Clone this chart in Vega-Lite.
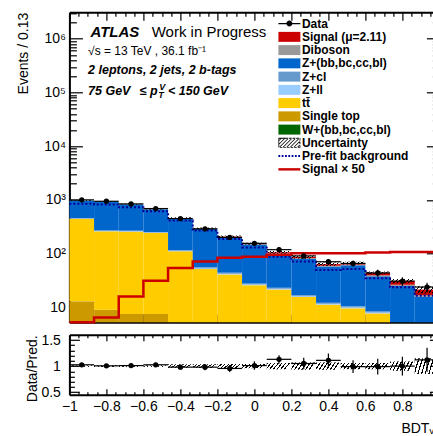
{
  "$schema": "https://vega.github.io/schema/vega-lite/v6.json",
  "background": "white",
  "padding": {"left": 16.4, "top": 5.3, "right": 0, "bottom": 0},
  "spacing": 5.5,
  "config": {
    "font": "Liberation Sans",
    "view": {"stroke": null},
    "axis": {
      "domainColor": "black", "domainWidth": 2, "tickColor": "black", "tickWidth": 1.2,
      "labelFont": "Liberation Sans", "labelFontSize": 14, "labelColor": "black",
      "titleFont": "Liberation Sans", "titleFontSize": 14, "titleFontWeight": "normal", "titleColor": "black",
      "grid": false, "zindex": 1, "labelFlush": false, "labelOverlap": false, "labelBound": false
    }
  },
  "datasets": {
    "procs": [
      {"key": "w", "k": 1, "name": "W+(bb,bc,cc,bl)"},
      {"key": "stop", "k": 2, "name": "Single top"},
      {"key": "tt", "k": 3, "name": "tt\u0304"},
      {"key": "zll", "k": 4, "name": "Z+ll"},
      {"key": "zcl", "k": 5, "name": "Z+cl"},
      {"key": "zhf", "k": 6, "name": "Z+(bb,bc,cc,bl)"},
      {"key": "vv", "k": 7, "name": "Diboson"},
      {"key": "sig", "k": 8, "name": "Signal (μ=2.11)"}
    ],
    "bins": [
      {"lo": -1, "hi": -0.8667, "c": -0.9333, "n": 1005, "nlo": 973, "nhi": 1037, "r": 1.025, "rlo": 0.993, "rhi": 1.057, "ulo": 960, "uhi": 990, "ulr": 0.985, "uhr": 1.015, "w": 0.8, "stop": 12.2, "tt": 432, "zll": 6, "zcl": 10, "zhf": 510, "vv": 4, "sig": 0.2},
      {"lo": -0.8667, "hi": -0.7333, "c": -0.8, "n": 946, "nlo": 915, "nhi": 977, "r": 1.005, "rlo": 0.972, "rhi": 1.038, "ulo": 921, "uhi": 949, "ulr": 0.985, "uhr": 1.015, "w": 0.6, "stop": 8.5, "tt": 252, "zll": 4, "zcl": 7, "zhf": 659, "vv": 4, "sig": 0.27},
      {"lo": -0.7333, "hi": -0.6, "c": -0.6667, "n": 845, "nlo": 816, "nhi": 874, "r": 1.01, "rlo": 0.975, "rhi": 1.045, "ulo": 822, "uhi": 848, "ulr": 0.985, "uhr": 1.015, "w": 0.5, "stop": 7.1, "tt": 250, "zll": 4, "zcl": 7, "zhf": 561, "vv": 4, "sig": 0.68},
      {"lo": -0.6, "hi": -0.4667, "c": -0.5333, "n": 692, "nlo": 666, "nhi": 718, "r": 1.025, "rlo": 0.986, "rhi": 1.064, "ulo": 665, "uhi": 685, "ulr": 0.985, "uhr": 1.015, "w": 0.4, "stop": 7.2, "tt": 236, "zll": 4, "zcl": 6, "zhf": 416, "vv": 4, "sig": 1.33},
      {"lo": -0.4667, "hi": -0.3333, "c": -0.4, "n": 451, "nlo": 430, "nhi": 472, "r": 0.98, "rlo": 0.934, "rhi": 1.026, "ulo": 444, "uhi": 476, "ulr": 0.965, "uhr": 1.035, "w": 0.3, "stop": 3.6, "tt": 107, "zll": 2.5, "zcl": 4, "zhf": 337, "vv": 3.5, "sig": 2.28},
      {"lo": -0.3333, "hi": -0.2, "c": -0.2667, "n": 290, "nlo": 273, "nhi": 307, "r": 0.98, "rlo": 0.922, "rhi": 1.038, "ulo": 286, "uhi": 306, "ulr": 0.965, "uhr": 1.035, "w": 0.2, "stop": 2.6, "tt": 49, "zll": 1.5, "zcl": 2.5, "zhf": 234, "vv": 3, "sig": 3.04},
      {"lo": -0.2, "hi": -0.0667, "c": -0.1333, "n": 201, "nlo": 187, "nhi": 215, "r": 0.955, "rlo": 0.888, "rhi": 1.022, "ulo": 202, "uhi": 218, "ulr": 0.96, "uhr": 1.04, "w": 0.2, "stop": 2.0, "tt": 39, "zll": 1.2, "zcl": 2, "zhf": 159, "vv": 3, "sig": 3.54},
      {"lo": -0.0667, "hi": 0.0667, "c": 0, "n": 156, "nlo": 143.5, "nhi": 168.5, "r": 1.01, "rlo": 0.929, "rhi": 1.091, "ulo": 148, "uhi": 160, "ulr": 0.96, "uhr": 1.04, "w": 0.1, "stop": 1.5, "tt": 24.4, "zll": 0.8, "zcl": 1.2, "zhf": 120, "vv": 2.5, "sig": 3.71},
      {"lo": 0.0667, "hi": 0.2, "c": 0.1333, "n": 119, "nlo": 108, "nhi": 130, "r": 1.13, "rlo": 1.05, "rhi": 1.21, "ulo": 99.6, "uhi": 112.4, "ulr": 0.94, "uhr": 1.06, "w": 0.1, "stop": 1.2, "tt": 20.4, "zll": 0.7, "zcl": 1.0, "zhf": 76, "vv": 2.5, "sig": 4.05},
      {"lo": 0.2, "hi": 0.3333, "c": 0.2667, "n": 91, "nlo": 81.5, "nhi": 100.5, "r": 1.05, "rlo": 0.94, "rhi": 1.16, "ulo": 80.9, "uhi": 93.1, "ulr": 0.93, "uhr": 1.07, "w": 0.1, "stop": 1.0, "tt": 14.6, "zll": 0.5, "zcl": 0.8, "zhf": 63.5, "vv": 2.2, "sig": 4.3},
      {"lo": 0.3333, "hi": 0.4667, "c": 0.4, "n": 71, "nlo": 62.6, "nhi": 79.4, "r": 1.11, "rlo": 0.98, "rhi": 1.24, "ulo": 59.5, "uhi": 68.5, "ulr": 0.93, "uhr": 1.07, "w": 0.1, "stop": 0.8, "tt": 10.4, "zll": 0.4, "zcl": 0.6, "zhf": 45.4, "vv": 2, "sig": 4.3},
      {"lo": 0.4667, "hi": 0.6, "c": 0.5333, "n": 66, "nlo": 57.9, "nhi": 74.1, "r": 0.99, "rlo": 0.87, "rhi": 1.11, "ulo": 63, "uhi": 71, "ulr": 0.94, "uhr": 1.06, "w": 0.05, "stop": 0.7, "tt": 8.9, "zll": 0.35, "zcl": 0.5, "zhf": 50.3, "vv": 2, "sig": 4.3},
      {"lo": 0.6, "hi": 0.7333, "c": 0.6667, "n": 44, "nlo": 37.4, "nhi": 50.6, "r": 0.99, "rlo": 0.84, "rhi": 1.14, "ulo": 41.4, "uhi": 46.6, "ulr": 0.94, "uhr": 1.06, "w": 0.05, "stop": 0.5, "tt": 7.2, "zll": 0.3, "zcl": 0.4, "zhf": 29.6, "vv": 1.6, "sig": 4.43},
      {"lo": 0.7333, "hi": 0.8667, "c": 0.8, "n": 31, "nlo": 25.4, "nhi": 36.6, "r": 1.0, "rlo": 0.82, "rhi": 1.18, "ulo": 28.2, "uhi": 33.8, "ulr": 0.91, "uhr": 1.09, "w": 0.05, "stop": 0.4, "tt": 4.1, "zll": 0.2, "zcl": 0.3, "zhf": 20, "vv": 1.4, "sig": 4.56},
      {"lo": 0.8667, "hi": 1, "c": 0.9333, "n": 24, "nlo": 19.1, "nhi": 28.9, "r": 1.12, "rlo": 0.89, "rhi": 1.35, "ulo": 18.3, "uhi": 24.7, "ulr": 0.85, "uhr": 1.15, "w": 0.05, "stop": 0.3, "tt": 3.2, "zll": 0.15, "zcl": 0.25, "zhf": 11.9, "vv": 1.1, "sig": 4.56}
    ],
    "edges": [
      {"e": -1, "s50": 5, "pre": 846},
      {"e": -0.8667, "s50": 6.5, "pre": 820},
      {"e": -0.7333, "s50": 16, "pre": 731},
      {"e": -0.6, "s50": 31.5, "pre": 616},
      {"e": -0.4667, "s50": 54, "pre": 413},
      {"e": -0.3333, "s50": 72, "pre": 269},
      {"e": -0.2, "s50": 84, "pre": 187},
      {"e": -0.0667, "s50": 88, "pre": 131},
      {"e": 0.0667, "s50": 96, "pre": 88},
      {"e": 0.2, "s50": 102, "pre": 72},
      {"e": 0.3333, "s50": 102, "pre": 50},
      {"e": 0.4667, "s50": 102, "pre": 52},
      {"e": 0.6, "s50": 105, "pre": 35},
      {"e": 0.7333, "s50": 108, "pre": 23.7},
      {"e": 0.8667, "s50": 108, "pre": 16.6},
      {"e": 1, "s50": 108, "pre": 16.6}
    ]
  },
  "vconcat": [
    {
      "width": 370,
      "height": 310,
      "resolve": {"axis": {"x": "independent", "y": "independent"}},
      "layer": [
        {
          "data": {"name": "bins"},
          "transform": [
            {"fold": ["w", "stop", "tt", "zll", "zcl", "zhf", "vv", "sig"], "as": ["key", "v"]},
            {"lookup": "key", "from": {"data": {"name": "procs"}, "key": "key", "fields": ["name", "k"]}},
            {"stack": "v", "groupby": ["lo"], "sort": [{"field": "k", "order": "ascending"}], "as": ["y0", "y1"]}
          ],
          "mark": {"type": "bar"},
          "encoding": {
            "x": {
              "field": "lo", "type": "quantitative",
              "scale": {"domain": [-1, 1], "nice": false, "zero": false},
              "axis": {
                "orient": "bottom", "title": null, "labels": false,
                "values": [-1,-0.95,-0.9,-0.85,-0.8,-0.75,-0.7,-0.65,-0.6,-0.55,-0.5,-0.45,-0.4,-0.35,-0.3,-0.25,-0.2,-0.15,-0.1,-0.05,0,0.05,0.1,0.15,0.2,0.25,0.3,0.35,0.4,0.45,0.5,0.55,0.6,0.65,0.7,0.75,0.8,0.85,0.9,0.95,1],
                "tickSize": {"condition": {"test": "abs(datum.value*5-round(datum.value*5))<0.001", "value": -8}, "value": -4}
              }
            },
            "x2": {"field": "hi"},
            "y": {
              "field": "y1", "type": "quantitative",
              "scale": {"type": "log", "domain": [5.3, 3100000], "nice": false, "clamp": true},
              "axis": {
                "orient": "left", "title": "Events / 0.13", "titleAnchor": "end", "titlePadding": 13,
                "values": [6,7,8,9,10,20,30,40,50,60,70,80,90,100,200,300,400,500,600,700,800,900,1000,2000,3000,4000,5000,6000,7000,8000,9000,10000,20000,30000,40000,50000,60000,70000,80000,90000,100000,200000,300000,400000,500000,600000,700000,800000,900000,1000000,2000000,3000000],
                "labelExpr": "datum.value==10?'10':datum.value==100?'10²':datum.value==1000?'10³':datum.value==10000?'10⁴':datum.value==100000?'10⁵':datum.value==1000000?'10⁶':''",
                "labelPadding": 17,
                "tickSize": {"condition": {"test": "indexof([10,100,1000,10000,100000,1000000],datum.value)>=0", "value": -13}, "value": -7}
              }
            },
            "y2": {"field": "y0"},
            "fill": {
              "field": "name", "type": "nominal",
              "scale": {
                "domain": ["Data", "Signal (μ=2.11)", "Diboson", "Z+(bb,bc,cc,bl)", "Z+cl", "Z+ll", "tt\u0304", "Single top", "W+(bb,bc,cc,bl)", "Uncertainty", "Pre-fit background", "Signal × 50"],
                "range": ["black", "#cc0000", "#999999", "#0066cc", "#6699cc", "#99ccff", "#ffcc00", "#cc9900", "#006600", "black", "#000099", "#cc0000"]
              },
              "legend": {
                "orient": "none", "legendX": 214, "legendY": 5.3, "title": null, "padding": 0,
                "labelFont": "Liberation Sans", "labelFontSize": 12, "labelFontWeight": "bold", "labelColor": "black",
                "symbolSize": 144, "symbolStrokeWidth": 0, "labelOffset": 6.5, "rowPadding": 1.25, "labelLimit": 300,
                "encode": {
                  "symbols": {
                    "update": {
                      "shape": {"signal": "datum.value === 'Data' ? 'M-1.83,-0.09H1.83V0.09H-1.83Z M0.5,0A0.5,0.5,0,1,1,-0.5,0A0.5,0.5,0,1,1,0.5,0Z' : datum.value === 'Uncertainty' ? 'M-1.83,-0.83H1.83V0.83H-1.83Z M-1.7,-0.7V0.7H1.7V-0.7Z M-1.83,0.83L-1.65,0.83L0.01,-0.83L-0.17,-0.83Z M-1.23,0.83L-1.05,0.83L0.61,-0.83L0.43,-0.83Z M-0.63,0.83L-0.45,0.83L1.21,-0.83L1.03,-0.83Z M-0.03,0.83L0.15,0.83L1.81,-0.83L1.63,-0.83Z M0.57,0.83L0.75,0.83L1.83,-0.25L1.83,-0.43Z M1.17,0.83L1.35,0.83L1.83,0.35L1.83,0.17Z M-1.83,0.41L-1.83,0.23L-0.77,-0.83L-0.59,-0.83Z M-1.83,-0.19L-1.83,-0.37L-1.37,-0.83L-1.19,-0.83Z' : datum.value === 'Pre-fit background' ? 'M-1.83,-0.17h0.3v0.34h-0.3Z M-1.28,-0.17h0.3v0.34h-0.3Z M-0.73,-0.17h0.3v0.34h-0.3Z M-0.18,-0.17h0.3v0.34h-0.3Z M0.37,-0.17h0.3v0.34h-0.3Z M0.92,-0.17h0.3v0.34h-0.3Z M1.47,-0.17h0.3v0.34h-0.3Z' : datum.value === 'Signal × 50' ? 'M-1.83,-0.2H1.83V0.2H-1.83Z' : 'M-1.83,-0.83H1.83V0.83H-1.83Z'"}
                    }
                  }
                }
              }
            }
          }
        },
        {
          "data": {"name": "bins"},
          "mark": {
            "type": "bar",
            "fill": {"gradient": "linear", "x1": 0, "y1": 0, "x2": 1, "y2": 0.2, "stops": [
              {"offset": 0, "color": "black"}, {"offset": 0.05, "color": "black"}, {"offset": 0.05, "color": "rgba(0,0,0,0)"}, {"offset": 0.1429, "color": "rgba(0,0,0,0)"},
              {"offset": 0.1429, "color": "black"}, {"offset": 0.1929, "color": "black"}, {"offset": 0.1929, "color": "rgba(0,0,0,0)"}, {"offset": 0.2857, "color": "rgba(0,0,0,0)"},
              {"offset": 0.2857, "color": "black"}, {"offset": 0.3357, "color": "black"}, {"offset": 0.3357, "color": "rgba(0,0,0,0)"}, {"offset": 0.4286, "color": "rgba(0,0,0,0)"},
              {"offset": 0.4286, "color": "black"}, {"offset": 0.4786, "color": "black"}, {"offset": 0.4786, "color": "rgba(0,0,0,0)"}, {"offset": 0.5714, "color": "rgba(0,0,0,0)"},
              {"offset": 0.5714, "color": "black"}, {"offset": 0.6214, "color": "black"}, {"offset": 0.6214, "color": "rgba(0,0,0,0)"}, {"offset": 0.7143, "color": "rgba(0,0,0,0)"},
              {"offset": 0.7143, "color": "black"}, {"offset": 0.7643, "color": "black"}, {"offset": 0.7643, "color": "rgba(0,0,0,0)"}, {"offset": 0.8571, "color": "rgba(0,0,0,0)"},
              {"offset": 0.8571, "color": "black"}, {"offset": 0.9071, "color": "black"}, {"offset": 0.9071, "color": "rgba(0,0,0,0)"}, {"offset": 1, "color": "rgba(0,0,0,0)"}
            ]}
          },
          "encoding": {
            "x": {
              "field": "lo", "type": "quantitative",
              "axis": {
                "orient": "top", "title": null, "labels": false,
                "values": [-1,-0.95,-0.9,-0.85,-0.8,-0.75,-0.7,-0.65,-0.6,-0.55,-0.5,-0.45,-0.4,-0.35,-0.3,-0.25,-0.2,-0.15,-0.1,-0.05,0,0.05,0.1,0.15,0.2,0.25,0.3,0.35,0.4,0.45,0.5,0.55,0.6,0.65,0.7,0.75,0.8,0.85,0.9,0.95,1],
                "tickSize": {"condition": {"test": "abs(datum.value*5-round(datum.value*5))<0.001", "value": -8}, "value": -4}
              }
            },
            "x2": {"field": "hi"},
            "y": {
              "field": "uhi", "type": "quantitative",
              "axis": {
                "orient": "right", "title": null, "labels": false,
                "values": [6,7,8,9,10,20,30,40,50,60,70,80,90,100,200,300,400,500,600,700,800,900,1000,2000,3000,4000,5000,6000,7000,8000,9000,10000,20000,30000,40000,50000,60000,70000,80000,90000,100000,200000,300000,400000,500000,600000,700000,800000,900000,1000000,2000000,3000000],
                "tickSize": {"condition": {"test": "indexof([10,100,1000,10000,100000,1000000],datum.value)>=0", "value": -13}, "value": -7}
              }
            },
            "y2": {"field": "ulo"}
          }
        },
        {
          "data": {"name": "edges"},
          "mark": {"type": "line", "interpolate": "step-after", "stroke": "#000099", "strokeWidth": 2, "strokeDash": [2, 2]},
          "encoding": {
            "x": {"field": "e", "type": "quantitative", "axis": null},
            "y": {"field": "pre", "type": "quantitative", "axis": null}
          }
        },
        {
          "data": {"name": "edges"},
          "mark": {"type": "line", "interpolate": "step-after", "stroke": "#cc0000", "strokeWidth": 2.5},
          "encoding": {
            "x": {"field": "e", "type": "quantitative", "axis": null},
            "y": {"field": "s50", "type": "quantitative", "axis": null}
          }
        },
        {
          "data": {"name": "bins"},
          "mark": {"type": "rule", "stroke": "black", "strokeWidth": 1.2},
          "encoding": {
            "x": {"field": "lo", "type": "quantitative", "axis": null},
            "x2": {"field": "hi"},
            "y": {"field": "n", "type": "quantitative", "axis": null}
          }
        },
        {
          "data": {"name": "bins"},
          "mark": {"type": "rule", "stroke": "black", "strokeWidth": 1.2},
          "encoding": {
            "x": {"field": "c", "type": "quantitative", "axis": null},
            "y": {"field": "nlo", "type": "quantitative", "axis": null},
            "y2": {"field": "nhi"}
          }
        },
        {
          "data": {"name": "bins"},
          "mark": {"type": "circle", "size": 28, "color": "black", "opacity": 1},
          "encoding": {
            "x": {"field": "c", "type": "quantitative", "axis": null},
            "y": {"field": "n", "type": "quantitative", "axis": null}
          }
        },
        {
          "data": {"values": [{}]},
          "mark": {"type": "text", "text": "ATLAS", "font": "Liberation Sans", "fontSize": 15, "fontWeight": "bold", "fontStyle": "italic", "align": "left", "baseline": "alphabetic", "color": "black"},
          "encoding": {"x": {"datum": -0.886, "type": "quantitative", "axis": null}, "y": {"datum": 1080000, "type": "quantitative", "axis": null}}
        },
        {
          "data": {"values": [{}]},
          "mark": {"type": "text", "text": "Work in Progress", "font": "Liberation Sans", "fontSize": 15, "align": "left", "baseline": "alphabetic", "color": "black"},
          "encoding": {"x": {"datum": -0.555, "type": "quantitative", "axis": null}, "y": {"datum": 1080000, "type": "quantitative", "axis": null}}
        },
        {
          "data": {"values": [{}]},
          "mark": {"type": "text", "text": "√s = 13 TeV , 36.1 fb⁻¹", "font": "Liberation Sans", "fontSize": 12, "align": "left", "baseline": "alphabetic", "color": "black"},
          "encoding": {"x": {"datum": -0.899, "type": "quantitative", "axis": null}, "y": {"datum": 489000, "type": "quantitative", "axis": null}}
        },
        {
          "data": {"values": [{}]},
          "mark": {"type": "text", "text": "2 leptons, 2 jets, 2 b-tags", "font": "Liberation Sans", "fontSize": 12.5, "fontWeight": "bold", "fontStyle": "italic", "align": "left", "baseline": "alphabetic", "color": "black"},
          "encoding": {"x": {"datum": -0.899, "type": "quantitative", "axis": null}, "y": {"datum": 217000, "type": "quantitative", "axis": null}}
        },
        {
          "data": {"values": [{}]},
          "mark": {"type": "text", "text": "75 GeV", "font": "Liberation Sans", "fontSize": 12.5, "fontWeight": "bold", "fontStyle": "italic", "align": "left", "baseline": "alphabetic", "color": "black"},
          "encoding": {"x": {"datum": -0.899, "type": "quantitative", "axis": null}, "y": {"datum": 88100, "type": "quantitative", "axis": null}}
        },
        {
          "data": {"values": [{}]},
          "mark": {"type": "text", "text": "≤", "font": "Liberation Sans", "fontSize": 12.5, "fontWeight": "bold", "align": "left", "baseline": "alphabetic", "color": "black"},
          "encoding": {"x": {"datum": -0.618, "type": "quantitative", "axis": null}, "y": {"datum": 88100, "type": "quantitative", "axis": null}}
        },
        {
          "data": {"values": [{}]},
          "mark": {"type": "text", "text": "p", "font": "Liberation Sans", "fontSize": 12.5, "fontWeight": "bold", "fontStyle": "italic", "align": "left", "baseline": "alphabetic", "color": "black"},
          "encoding": {"x": {"datum": -0.564, "type": "quantitative", "axis": null}, "y": {"datum": 88100, "type": "quantitative", "axis": null}}
        },
        {
          "data": {"values": [{}]},
          "mark": {"type": "text", "text": "V", "font": "Liberation Sans", "fontSize": 9, "fontWeight": "bold", "fontStyle": "italic", "align": "left", "baseline": "alphabetic", "color": "black"},
          "encoding": {"x": {"datum": -0.514, "type": "quantitative", "axis": null}, "y": {"datum": 109000, "type": "quantitative", "axis": null}}
        },
        {
          "data": {"values": [{}]},
          "mark": {"type": "text", "text": "T", "font": "Liberation Sans", "fontSize": 9, "fontWeight": "bold", "fontStyle": "italic", "align": "left", "baseline": "alphabetic", "color": "black"},
          "encoding": {"x": {"datum": -0.52, "type": "quantitative", "axis": null}, "y": {"datum": 77400, "type": "quantitative", "axis": null}}
        },
        {
          "data": {"values": [{}]},
          "mark": {"type": "text", "text": "< 150 GeV", "font": "Liberation Sans", "fontSize": 12.5, "fontWeight": "bold", "fontStyle": "italic", "align": "left", "baseline": "alphabetic", "color": "black"},
          "encoding": {"x": {"datum": -0.467, "type": "quantitative", "axis": null}, "y": {"datum": 88100, "type": "quantitative", "axis": null}}
        }
      ]
    },
    {
      "width": 370,
      "height": 60,
      "resolve": {"axis": {"x": "independent", "y": "independent"}},
      "layer": [
        {
          "data": {"name": "bins"},
          "mark": {
            "type": "bar",
            "fill": {"gradient": "linear", "x1": 0, "y1": 0, "x2": 1, "y2": 0.2, "stops": [
              {"offset": 0, "color": "black"}, {"offset": 0.05, "color": "black"}, {"offset": 0.05, "color": "rgba(0,0,0,0)"}, {"offset": 0.1429, "color": "rgba(0,0,0,0)"},
              {"offset": 0.1429, "color": "black"}, {"offset": 0.1929, "color": "black"}, {"offset": 0.1929, "color": "rgba(0,0,0,0)"}, {"offset": 0.2857, "color": "rgba(0,0,0,0)"},
              {"offset": 0.2857, "color": "black"}, {"offset": 0.3357, "color": "black"}, {"offset": 0.3357, "color": "rgba(0,0,0,0)"}, {"offset": 0.4286, "color": "rgba(0,0,0,0)"},
              {"offset": 0.4286, "color": "black"}, {"offset": 0.4786, "color": "black"}, {"offset": 0.4786, "color": "rgba(0,0,0,0)"}, {"offset": 0.5714, "color": "rgba(0,0,0,0)"},
              {"offset": 0.5714, "color": "black"}, {"offset": 0.6214, "color": "black"}, {"offset": 0.6214, "color": "rgba(0,0,0,0)"}, {"offset": 0.7143, "color": "rgba(0,0,0,0)"},
              {"offset": 0.7143, "color": "black"}, {"offset": 0.7643, "color": "black"}, {"offset": 0.7643, "color": "rgba(0,0,0,0)"}, {"offset": 0.8571, "color": "rgba(0,0,0,0)"},
              {"offset": 0.8571, "color": "black"}, {"offset": 0.9071, "color": "black"}, {"offset": 0.9071, "color": "rgba(0,0,0,0)"}, {"offset": 1, "color": "rgba(0,0,0,0)"}
            ]}
          },
          "encoding": {
            "x": {
              "field": "lo", "type": "quantitative",
              "scale": {"domain": [-1, 1], "nice": false, "zero": false},
              "axis": {
                "orient": "bottom", "title": "BDTᵥₕ", "titleAnchor": "end", "titlePadding": 5,
                "values": [-1,-0.95,-0.9,-0.85,-0.8,-0.75,-0.7,-0.65,-0.6,-0.55,-0.5,-0.45,-0.4,-0.35,-0.3,-0.25,-0.2,-0.15,-0.1,-0.05,0,0.05,0.1,0.15,0.2,0.25,0.3,0.35,0.4,0.45,0.5,0.55,0.6,0.65,0.7,0.75,0.8,0.85,0.9,0.95,1],
                "labelExpr": "abs(datum.value*5-round(datum.value*5))<0.001 ? format(datum.value, '.1~f') : ''",
                "labelPadding": 11,
                "tickSize": {"condition": {"test": "abs(datum.value*5-round(datum.value*5))<0.001", "value": -6}, "value": -3}
              }
            },
            "x2": {"field": "hi"},
            "y": {
              "field": "uhr", "type": "quantitative",
              "scale": {"domain": [0.45, 1.6], "nice": false, "zero": false},
              "axis": {
                "orient": "left", "title": "Data/Pred.", "titleAnchor": "end", "titlePadding": 1,
                "values": [0.5,0.6,0.7,0.8,0.9,1,1.1,1.2,1.3,1.4,1.5],
                "labelExpr": "abs(datum.value*2-round(datum.value*2))<0.001 ? format(datum.value, '.1~f') : ''",
                "labelPadding": 19,
                "tickSize": {"condition": {"test": "abs(datum.value*2-round(datum.value*2))<0.001", "value": -10}, "value": -5}
              }
            },
            "y2": {"field": "ulr"}
          }
        },
        {
          "data": {"name": "bins"},
          "mark": {"type": "rule", "stroke": "black", "strokeWidth": 1.2},
          "encoding": {
            "x": {
              "field": "lo", "type": "quantitative",
              "axis": {
                "orient": "top", "title": null, "labels": false,
                "values": [-1,-0.95,-0.9,-0.85,-0.8,-0.75,-0.7,-0.65,-0.6,-0.55,-0.5,-0.45,-0.4,-0.35,-0.3,-0.25,-0.2,-0.15,-0.1,-0.05,0,0.05,0.1,0.15,0.2,0.25,0.3,0.35,0.4,0.45,0.5,0.55,0.6,0.65,0.7,0.75,0.8,0.85,0.9,0.95,1],
                "tickSize": {"condition": {"test": "abs(datum.value*5-round(datum.value*5))<0.001", "value": -6}, "value": -3}
              }
            },
            "x2": {"field": "hi"},
            "y": {
              "field": "r", "type": "quantitative",
              "axis": {
                "orient": "right", "title": null, "labels": false,
                "values": [0.5,0.6,0.7,0.8,0.9,1,1.1,1.2,1.3,1.4,1.5],
                "tickSize": {"condition": {"test": "abs(datum.value*2-round(datum.value*2))<0.001", "value": -10}, "value": -5}
              }
            }
          }
        },
        {
          "data": {"name": "bins"},
          "mark": {"type": "rule", "stroke": "black", "strokeWidth": 1.2},
          "encoding": {
            "x": {"field": "c", "type": "quantitative", "axis": null},
            "y": {"field": "rlo", "type": "quantitative", "axis": null},
            "y2": {"field": "rhi"}
          }
        },
        {
          "data": {"name": "bins"},
          "mark": {"type": "circle", "size": 28, "color": "black", "opacity": 1},
          "encoding": {
            "x": {"field": "c", "type": "quantitative", "axis": null},
            "y": {"field": "r", "type": "quantitative", "axis": null}
          }
        }
      ]
    }
  ]
}
